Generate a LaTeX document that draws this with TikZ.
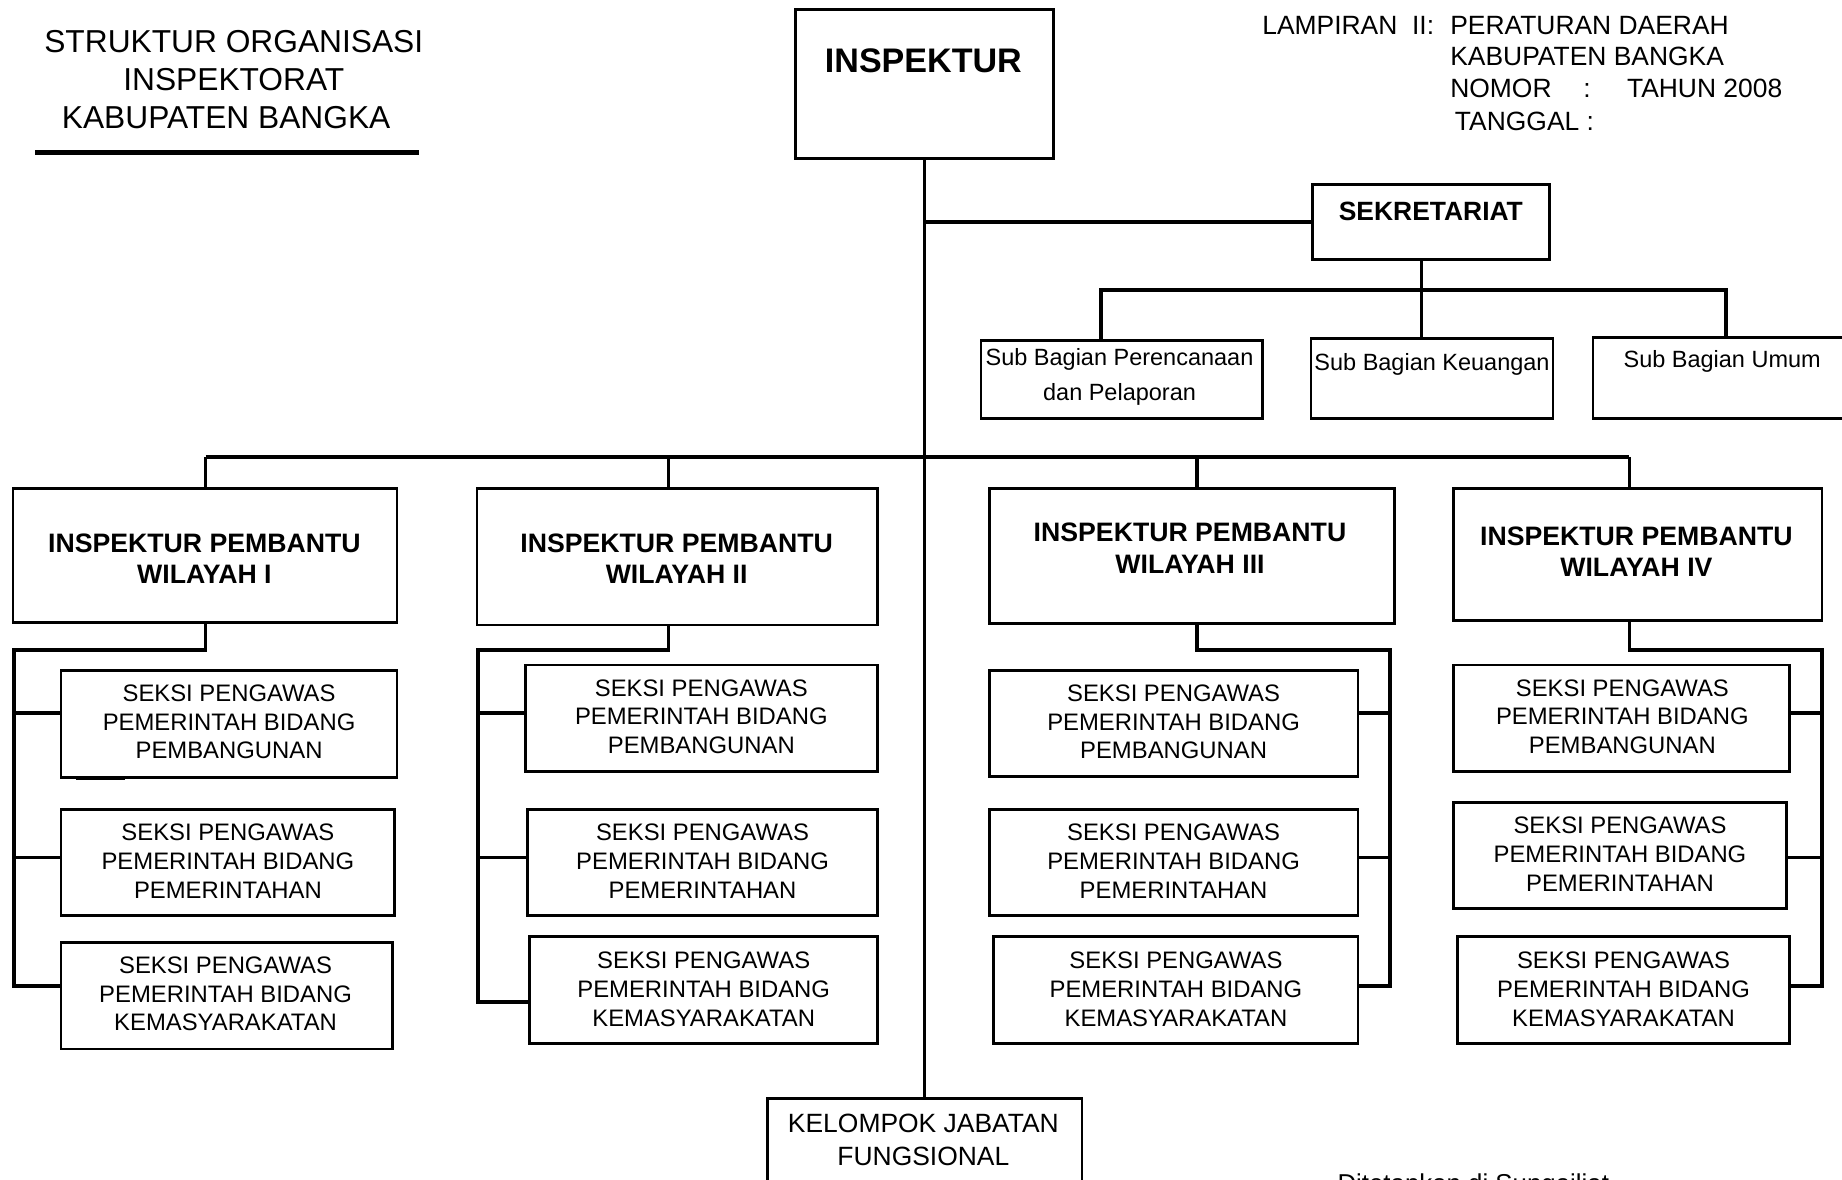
\documentclass[tikz,border=0pt]{standalone}
\usepackage{fontspec}
\setmainfont{Liberation Sans}
\usetikzlibrary{positioning}

\tikzset{
  box/.style={draw, line width=2.4pt, inner sep=0pt},
  conn/.style={line width=3.2pt},
  titletext/.style={align=center, font=\fontsize{27}{32.5}\selectfont},
  headtext/.style={anchor=base west, font=\fontsize{22.5}{27}\selectfont},
  boldtext/.style={align=center, font=\bfseries\fontsize{22.7}{27}\selectfont},
  seksitext/.style={align=center, font=\fontsize{20.3}{24.5}\selectfont},
  subtext/.style={align=center, font=\fontsize{20}{30}\selectfont}
}

\begin{document}
\begin{tikzpicture}[x=1pt, y=-1pt]
\useasboundingbox (0,0) rectangle (1568,1004);

% judul
\node[titletext] (judul) at (199,67.5) {STRUKTUR ORGANISASI\\INSPEKTORAT\hspace*{11pt}\\KABUPATEN BANGKA\hspace*{13pt}};
\draw[line width=4pt] (30,130) -- (357,130);

% lampiran
\node[headtext] (lamp1) at (1071,29) {LAMPIRAN\ \ II:};
\node[headtext] (lamp2) at (1231,29) {PERATURAN DAERAH};
\node[headtext] (lamp3) at (1231,56) {KABUPATEN BANGKA};
\node[headtext] (lamp4) at (1231,83) {NOMOR\hspace{27pt}:\hspace{31pt}TAHUN 2008};
\node[headtext] (lamp5) at (1235,111) {TANGGAL :};

% inspektur
\node[box, minimum width=220pt, minimum height=127pt] (insp) at (787,71.5) {};
\node[font=\bfseries\fontsize{29}{34}\selectfont] (insp-t) at (786,52) {INSPEKTUR};

% sekretariat
\node[box, minimum width=202pt, minimum height=64pt] (sek) at (1218,189) {};
\node[font=\bfseries\fontsize{22.5}{27}\selectfont] (sek-t) at (1218,180) {SEKRETARIAT};

% sub bagian
\node[box, minimum width=240pt, minimum height=66pt] (sbp) at (955,323) {};
\node[subtext] (sbp-t) at (953,321) {Sub Bagian Perencanaan\\dan Pelaporan};
\node[box, minimum width=206pt, minimum height=68pt] (sbk) at (1219,322) {};
\node[subtext] (sbk-t) at (1219,310) {Sub Bagian Keuangan};
\node[box, minimum width=226pt, minimum height=69pt] (sbu) at (1469,321.5) {};
\node[subtext] (sbu-t) at (1466,308) {Sub Bagian Umum};

% kelompok jabatan fungsional
\node[box, minimum width=268pt, minimum height=95pt] (kjf) at (787,982.5) {};
\node[align=center, font=\fontsize{22.5}{28}\selectfont] (kjf-t) at (786,970) {KELOMPOK JABATAN\\FUNGSIONAL};

% wilayah
\node[box, minimum width=327pt, minimum height=114pt] (w1) at (174.5,473) {};
\node[boldtext] (w1-t) at (174,475.5) {INSPEKTUR PEMBANTU\\WILAYAH I};
\node[box, minimum width=341pt, minimum height=116pt] (w2) at (576.5,474) {};
\node[boldtext] (w2-t) at (576,475.5) {INSPEKTUR PEMBANTU\\WILAYAH II};
\node[box, minimum width=345pt, minimum height=115pt] (w3) at (1014.5,473.5) {};
\node[boldtext] (w3-t) at (1013,466.5) {INSPEKTUR PEMBANTU\\WILAYAH III};
\node[box, minimum width=314pt, minimum height=112pt] (w4) at (1394,472) {};
\node[boldtext] (w4-t) at (1393,469.5) {INSPEKTUR PEMBANTU\\WILAYAH IV};

% seksi wilayah I
\node[box, minimum width=286pt, minimum height=91pt] (s1a) at (195,616.5) {};
\node[seksitext] (s1a-t) at (195,614.5) {SEKSI PENGAWAS\\PEMERINTAH BIDANG\\PEMBANGUNAN};
\node[box, minimum width=284pt, minimum height=90pt] (s1b) at (194,734) {};
\node[seksitext] (s1b-t) at (194,733) {SEKSI PENGAWAS\\PEMERINTAH BIDANG\\PEMERINTAHAN};
\node[box, minimum width=282pt, minimum height=91pt] (s1c) at (193,847.5) {};
\node[seksitext] (s1c-t) at (192,846) {SEKSI PENGAWAS\\PEMERINTAH BIDANG\\KEMASYARAKATAN};
\draw[line width=2.4pt] (65,663) -- (106,663);

% seksi wilayah II
\node[box, minimum width=300pt, minimum height=91pt] (s2a) at (597,611.5) {};
\node[seksitext] (s2a-t) at (597,610) {SEKSI PENGAWAS\\PEMERINTAH BIDANG\\PEMBANGUNAN};
\node[box, minimum width=298pt, minimum height=90pt] (s2b) at (598,734) {};
\node[seksitext] (s2b-t) at (598,733) {SEKSI PENGAWAS\\PEMERINTAH BIDANG\\PEMERINTAHAN};
\node[box, minimum width=296pt, minimum height=91pt] (s2c) at (599,842.5) {};
\node[seksitext] (s2c-t) at (599,842) {SEKSI PENGAWAS\\PEMERINTAH BIDANG\\KEMASYARAKATAN};

% seksi wilayah III
\node[box, minimum width=314pt, minimum height=90pt] (s3a) at (999,616) {};
\node[seksitext] (s3a-t) at (999,614.5) {SEKSI PENGAWAS\\PEMERINTAH BIDANG\\PEMBANGUNAN};
\node[box, minimum width=314pt, minimum height=90pt] (s3b) at (999,734) {};
\node[seksitext] (s3b-t) at (999,733) {SEKSI PENGAWAS\\PEMERINTAH BIDANG\\PEMERINTAHAN};
\node[box, minimum width=310pt, minimum height=91pt] (s3c) at (1001,842.5) {};
\node[seksitext] (s3c-t) at (1001,842) {SEKSI PENGAWAS\\PEMERINTAH BIDANG\\KEMASYARAKATAN};

% seksi wilayah IV
\node[box, minimum width=286pt, minimum height=91pt] (s4a) at (1380,611.5) {};
\node[seksitext] (s4a-t) at (1381,610) {SEKSI PENGAWAS\\PEMERINTAH BIDANG\\PEMBANGUNAN};
\node[box, minimum width=284pt, minimum height=90pt] (s4b) at (1379,728) {};
\node[seksitext] (s4b-t) at (1379,727) {SEKSI PENGAWAS\\PEMERINTAH BIDANG\\PEMERINTAHAN};
\node[box, minimum width=282pt, minimum height=91pt] (s4c) at (1382,842.5) {};
\node[seksitext] (s4c-t) at (1382,842) {SEKSI PENGAWAS\\PEMERINTAH BIDANG\\KEMASYARAKATAN};

\node[anchor=base west, font=\fontsize{22}{26}\selectfont] (tetap) at (1135,1015) {Ditetapkan di Sungailiat};

% garis
\coordinate (sb-l) at (937,247);
\coordinate (sb-m) at (1210,247);
\coordinate (sb-r) at (1469,247);
\coordinate (d1) at (175,389);
\coordinate (d2) at (569,389);
\coordinate (d3) at (1019,389);
\coordinate (d4) at (1387,389);
\coordinate (sp1) at (12,553);
\coordinate (sp2) at (407,553);
\coordinate (sp3) at (1183,553);
\coordinate (sp4) at (1551,553);
\coordinate (t1a) at (12,607);
\coordinate (t1b) at (12,730);
\coordinate (t1c) at (12,839);
\coordinate (t2a) at (407,607);
\coordinate (t2b) at (407,730);
\coordinate (t2c) at (407,853);
\coordinate (t3a) at (1183,607);
\coordinate (t3b) at (1183,730);
\coordinate (t3c) at (1183,839);
\coordinate (t4a) at (1551,607);
\coordinate (t4b) at (1551,730);
\coordinate (t4c) at (1551,839);

\draw[conn] (insp.south) -- (kjf.north);
\draw[conn] (sek.west) -- (sek.west -| insp.south);
\draw[conn] (sb-m |- sek.south) -- (sb-m |- sbk.north);
\draw[conn] (sb-l |- sbp.north) -- (sb-l) -- (sb-r) -- (sbu.north);

\draw[conn] (d1) -- (d4);
\draw[conn] (d1) -- (d1 |- w1.north);
\draw[conn] (d2) -- (d2 |- w2.north);
\draw[conn] (d3) -- (d3 |- w3.north);
\draw[conn] (d4) -- (d4 |- w4.north);

\draw[conn] (t1c -| s1c.west) -- (t1c) -- (sp1) -- (d1 |- sp1) -- (d1 |- w1.south);
\draw[conn] (t1a) -- (t1a -| s1a.west);
\draw[conn] (t1b) -- (t1b -| s1b.west);

\draw[conn] (t2c -| s2c.west) -- (t2c) -- (sp2) -- (d2 |- sp2) -- (d2 |- w2.south);
\draw[conn] (t2a) -- (t2a -| s2a.west);
\draw[conn] (t2b) -- (t2b -| s2b.west);

\draw[conn] (t3c -| s3c.east) -- (t3c) -- (sp3) -- (d3 |- sp3) -- (d3 |- w3.south);
\draw[conn] (t3a) -- (t3a -| s3a.east);
\draw[conn] (t3b) -- (t3b -| s3b.east);

\draw[conn] (t4c -| s4c.east) -- (t4c) -- (sp4) -- (d4 |- sp4) -- (d4 |- w4.south);
\draw[conn] (t4a) -- (t4a -| s4a.east);
\draw[conn] (t4b) -- (t4b -| s4b.east);

\end{tikzpicture}
\end{document}
